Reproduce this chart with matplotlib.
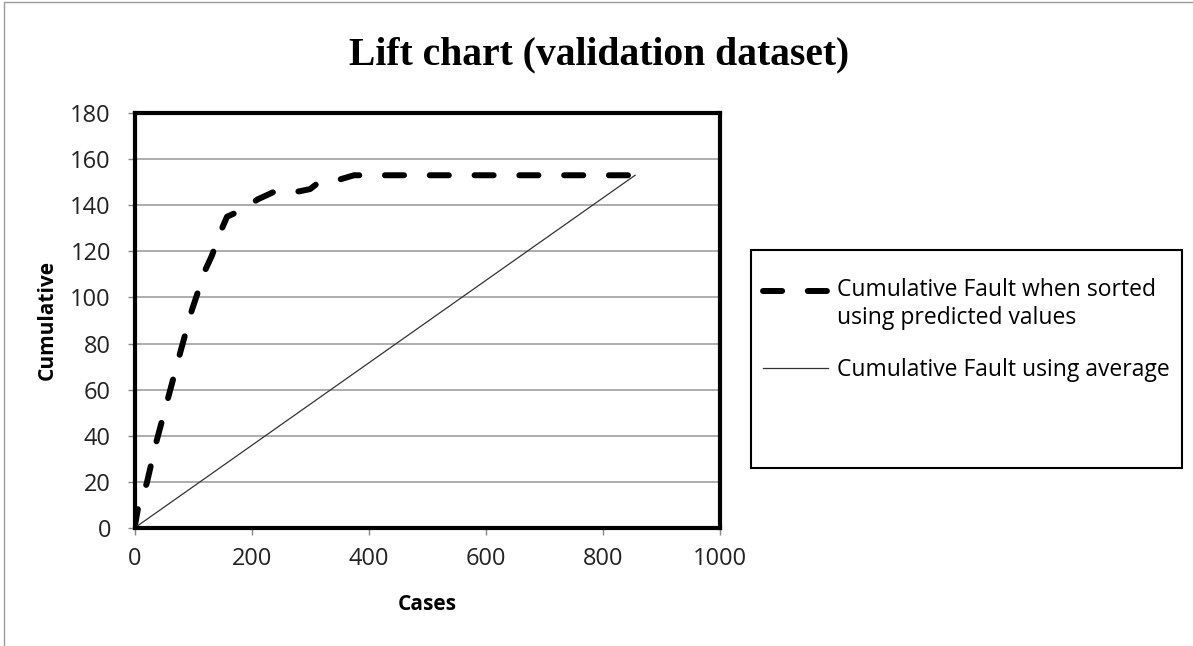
import matplotlib
matplotlib.use("Agg")
import matplotlib.pyplot as plt
from matplotlib.patches import Rectangle
from matplotlib.legend_handler import HandlerLine2D

# Data
cases_sorted = [0, 6, 21, 38, 58, 78, 98, 121, 132, 147, 158, 175, 190, 210, 240, 281, 300, 310, 335, 375, 500, 700, 855]
cum_sorted = [0, 8.5, 19.5, 38, 57, 76, 94.5, 112, 118, 128.5, 135, 137, 139, 142.5, 146, 146, 147, 149, 150, 153, 153, 153, 153]
cases_avg = [0, 855]
cum_avg = [0, 153]

x_ticks = [0, 200, 400, 600, 800, 1000]
y_ticks = [0, 20, 40, 60, 80, 100, 120, 140, 160, 180]

title = "Lift chart (validation dataset)"
x_label = "Cases"
y_label = "Cumulative"
label_sorted = "Cumulative Fault when sorted\nusing predicted values"
label_avg = "Cumulative Fault using average"

W, H = 1193, 646
fig = plt.figure(figsize=(W / 100, H / 100), dpi=100)
fig.patch.set_facecolor("white")

# outer chart-area border (top and left visible)
fig.add_artist(Rectangle((4 / W, -0.1), 1.2, 1 - 2 / H + 0.1, transform=fig.transFigure,
                         fill=False, edgecolor="#9a9a9a", linewidth=1.0))

ax_l, ax_r, ax_t, ax_b = 134.5, 720, 113, 528
ax = fig.add_axes([ax_l / W, 1 - ax_b / H, (ax_r - ax_l) / W, (ax_b - ax_t) / H])

ax.set_xlim(0, 1000)
ax.set_ylim(0, 180)
ax.set_xticks(x_ticks)
ax.set_yticks(y_ticks)

font = "Open Sans"
ax.set_xticklabels([str(v) for v in x_ticks], fontsize=17, fontfamily=font, color="#222222")
ax.set_yticklabels([str(v) for v in y_ticks], fontsize=17, fontfamily=font, color="#222222")

ax.grid(axis="y", color="#a0a0a0", linewidth=1.2)
ax.set_axisbelow(True)
ax.tick_params(axis="y", direction="out", length=5, width=1, color="#888888", pad=12)
ax.tick_params(axis="x", direction="out", length=5, width=1, color="#888888", pad=9)

for s in ax.spines.values():
    s.set_linewidth(3)
    s.set_color("black")

ax.plot(cases_sorted, cum_sorted, color="black", linewidth=4.3, linestyle=(0, (3.2, 4.3)),
        solid_capstyle="round", dash_capstyle="round", label=label_sorted)
ax.plot(cases_avg, cum_avg, color="#333333", linewidth=0.9, label=label_avg)

ax.set_xlabel(x_label, fontsize=15, fontweight="bold", fontfamily=font, labelpad=16)
ax.set_ylabel(y_label, fontsize=15, fontweight="bold", fontfamily=font, labelpad=9)

fig.text(599 / W, 1 - 55 / H, title, ha="center", va="center", fontsize=28.5,
         fontweight="bold", fontfamily="Liberation Serif")


class HandlerTop(HandlerLine2D):
    def __init__(self, dy=0.0, **kw):
        super().__init__(**kw)
        self.dy = dy

    def create_artists(self, legend, orig_handle, xdescent, ydescent, width, height, fontsize, trans):
        return super().create_artists(legend, orig_handle, xdescent, ydescent - self.dy,
                                      width, height, fontsize, trans)


# legend
fig.add_artist(Rectangle((751 / W, 1 - 468 / H), (1182 - 751) / W, (468 - 250) / H,
                         transform=fig.transFigure, fill=False, edgecolor="black", linewidth=1.5))
lines = ax.get_lines()
leg = ax.legend(loc="upper left", bbox_to_anchor=(752 / W, 1 - 267 / H),
                bbox_transform=fig.transFigure, frameon=False,
                prop={"family": font, "size": 16.5}, handlelength=2.8, handletextpad=0.4,
                labelspacing=1.2, borderpad=0,
                handler_map={lines[0]: HandlerTop(dy=20)})

fig.savefig("out.png", dpi=100)
